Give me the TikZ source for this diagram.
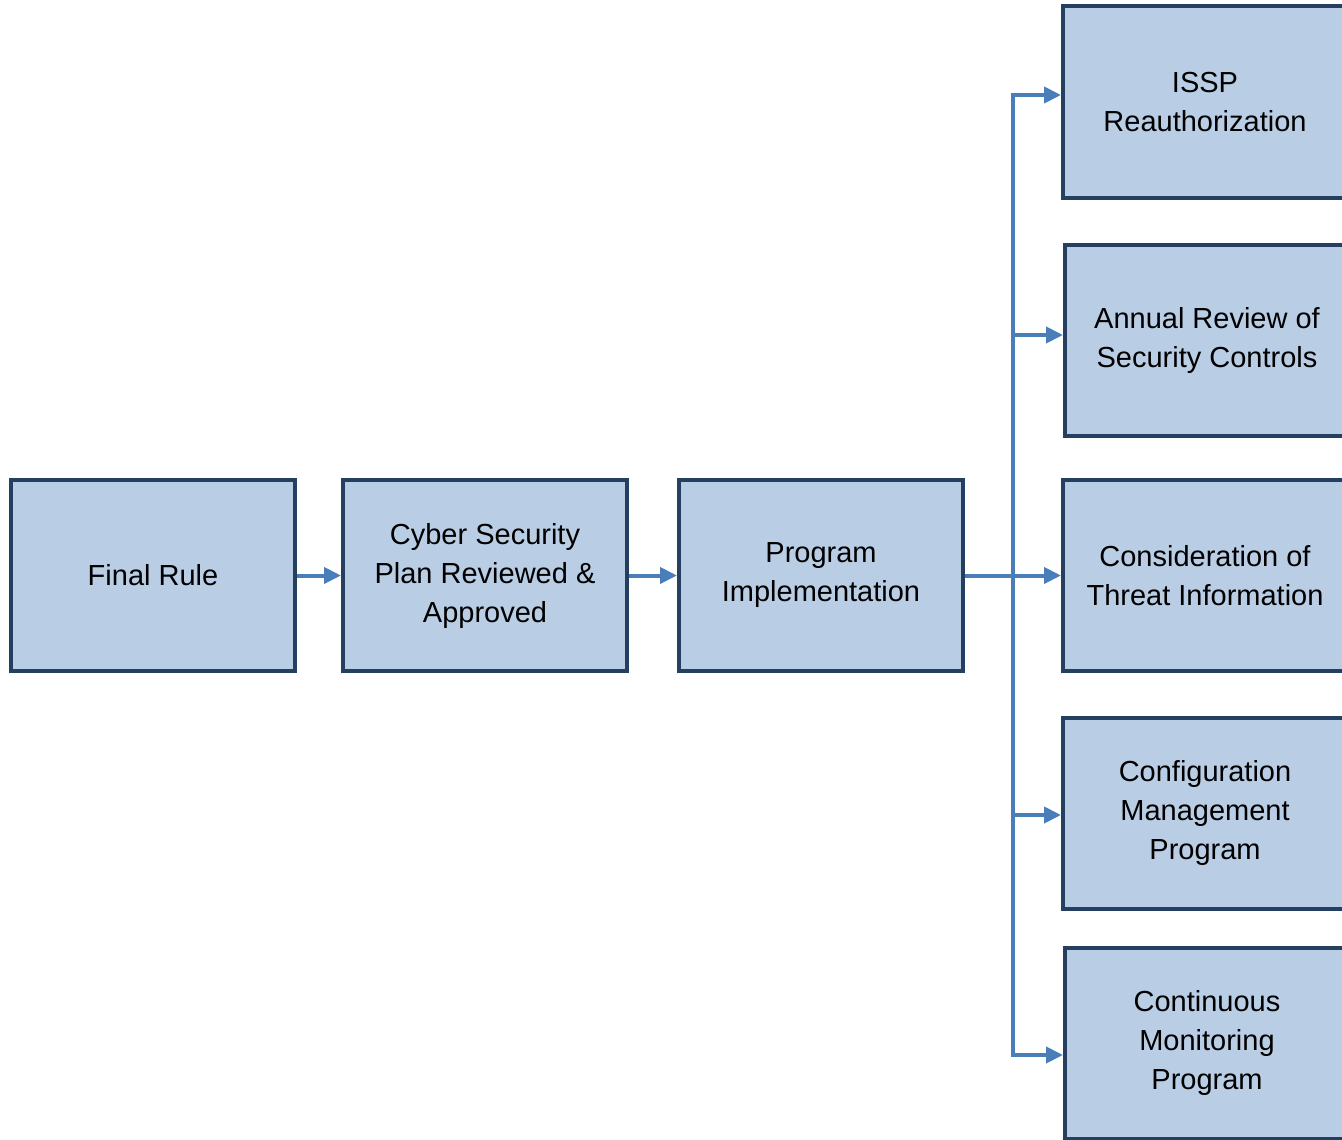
\documentclass[tikz,border=0pt]{standalone}
\usepackage{fontspec}
\setmainfont{Liberation Sans}
\usetikzlibrary{arrows.meta,positioning}
\definecolor{boxfill}{HTML}{B9CDE5}
\definecolor{boxline}{HTML}{243F60}
\definecolor{flow}{HTML}{4A7EBB}
\tikzset{
  stepbox/.style={draw=boxline, fill=boxfill, line width=4pt, rectangle,
    minimum width=284pt, minimum height=191pt, inner sep=0pt,
    align=center, font=\fontsize{29}{39}\selectfont},
  flowarrow/.style={draw=flow, line width=4pt,
    -{Triangle[length=17pt,width=16pt]}},
}
\begin{document}
\begin{tikzpicture}[x=1pt,y=-1pt]
  \useasboundingbox (0,0) rectangle (1342,1140);
  \clip (0,0) rectangle (1342,1140);
  % main chain
  \node[stepbox] (rule) at (153,575.5) {Final Rule};
  \node[stepbox] (plan) at (485,575.5) {Cyber Security\\Plan Reviewed \&\\Approved};
  \node[stepbox] (impl) at (821,575.5) {Program\\Implementation};
  % follow-up activities
  \node[stepbox] (reauth) at (1205,102) {ISSP\\Reauthorization};
  \node[stepbox] (annual) at (1207,340) {Annual Review of\\Security Controls};
  \node[stepbox] (threat) at (1205,575.5) {Consideration of\\Threat Information};
  \node[stepbox] (config) at (1205,813) {Configuration\\Management\\Program};
  \node[stepbox] (monitor) at (1207,1043) {Continuous\\Monitoring\\Program};
  % connectors
  \draw[flowarrow] (rule.east) -- (plan.west);
  \draw[flowarrow] (plan.east) -- (impl.west);
  \coordinate (bus) at (1013,575.5);
  \draw[flowarrow] (impl.east) -- (threat.west);
  \draw[flowarrow] (bus) |- ([yshift=7pt]reauth.west);
  \draw[flowarrow] (bus) |- ([yshift=5pt]annual.west);
  \draw[flowarrow] (bus) |- ([yshift=-2pt]config.west);
  \draw[flowarrow] (bus) |- ([yshift=-12pt]monitor.west);
\end{tikzpicture}
\end{document}
